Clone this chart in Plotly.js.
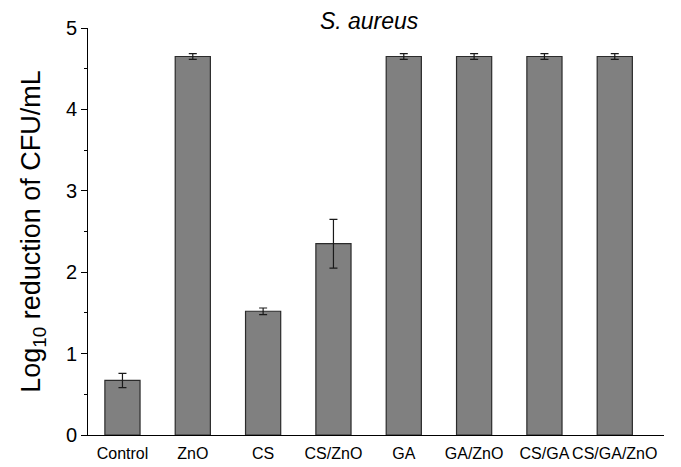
<!DOCTYPE html>
<html>
<head>
<meta charset="utf-8">
<script src="https://cdn.plot.ly/plotly-3.0.1.min.js"></script>
<style>html,body{margin:0;padding:0;background:#fff;}#chart{width:681px;height:467px;}</style>
</head>
<body>
<div id="chart"></div>
<script>
const categories = ["Control", "ZnO", "CS", "CS/ZnO", "GA", "GA/ZnO", "CS/GA", "CS/GA/ZnO"];
const logReduction = [0.67, 4.65, 1.52, 2.35, 4.65, 4.65, 4.65, 4.65];
const errors = [0.087, 0.035, 0.04, 0.30, 0.035, 0.035, 0.035, 0.035];
const yTicks = [0, 1, 2, 3, 4, 5];

const trace = {
  type: 'bar',
  x: categories,
  y: logReduction,
  width: 0.5,
  marker: {color: '#808080', line: {color: '#2b2b2b', width: 1.2}},
  error_y: {type: 'data', array: errors, visible: true, color: '#1a1a1a', thickness: 1.2, width: 4}
};

const layout = {
  width: 681, height: 467,
  margin: {l: 88, r: 17, t: 28, b: 32},
  paper_bgcolor: '#fff', plot_bgcolor: '#fff',
  showlegend: false,
  font: {family: 'Liberation Sans, Arial, sans-serif', color: '#000'},
  title: {text: '<i>S. aureus</i>', x: 0.542, xanchor: 'center', y: 0.956, yanchor: 'middle', font: {size: 23, family: 'Liberation Sans, Arial, sans-serif'}},
  xaxis: {
    type: 'category', range: [-0.49, 7.70],
    showline: true, linecolor: '#000', linewidth: 1,
    ticks: '', showgrid: false, zeroline: false,
    tickangle: 0, ticklabelstandoff: 4,
    tickfont: {size: 16}, automargin: false
  },
  yaxis: {
    range: [0, 5], tickvals: yTicks, ticktext: yTicks.map(String),
    showline: true, linecolor: '#000', linewidth: 1,
    ticks: 'outside', ticklen: 6, tickcolor: '#000', tickwidth: 1,
    minor: {dtick: 0.5, ticks: 'outside', ticklen: 3, tickcolor: '#000', tickwidth: 1, showgrid: false},
    showgrid: false, zeroline: false,
    tickfont: {size: 20}, automargin: false,
    title: {text: 'Log<sub>10</sub> reduction of CFU/mL', font: {size: 27}, standoff: 17}
  }
};

Plotly.newPlot('chart', [trace], layout, {displayModeBar: false, staticPlot: true});
</script>
</body>
</html>
